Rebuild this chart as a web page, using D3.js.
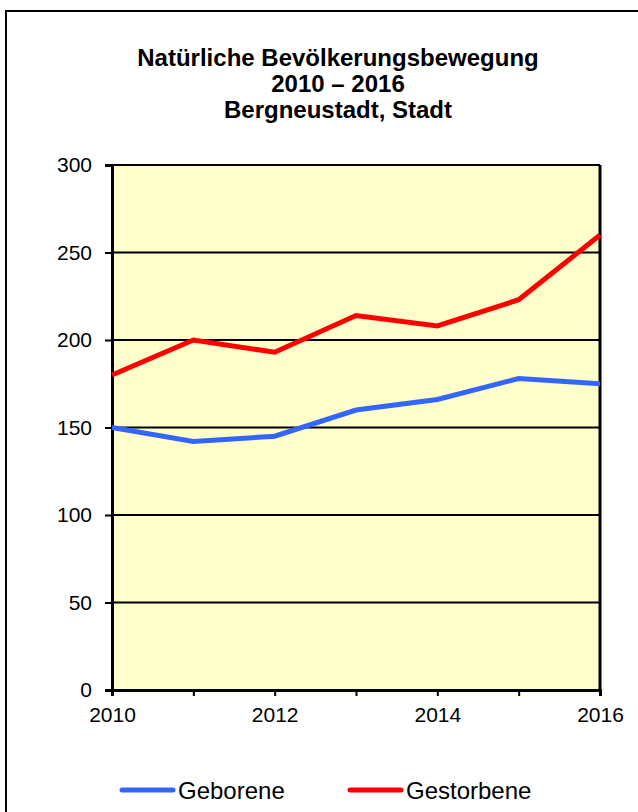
<!DOCTYPE html>
<html>
<head>
<meta charset="utf-8">
<script src="https://cdn.jsdelivr.net/npm/d3@7"></script>
<style>
  html, body { margin: 0; padding: 0; background: #ffffff; }
  svg { display: block; }
  text { font-family: "Liberation Sans", Arial, sans-serif; fill: #000; }
</style>
</head>
<body>
<svg id="chart" width="638" height="812"></svg>
<script>
// Natürliche Bevölkerungsbewegung, Bergneustadt 2010–2016
const years = [2010, 2011, 2012, 2013, 2014, 2015, 2016];
const geborene = [150, 142, 145, 160, 166, 178, 175];
const gestorbene = [180, 200, 193, 214, 208, 223, 260];
const yTicks = [0, 50, 100, 150, 200, 250, 300];
const xTickLabels = [2010, 2012, 2014, 2016];
const titleLines = ["Natürliche Bevölkerungsbewegung", "2010 – 2016", "Bergneustadt, Stadt"];
const seriesNames = ["Geborene", "Gestorbene"];
const seriesColors = ["#3366ff", "#ff0000"];

const svg = d3.select("#chart");

// outer frame
svg.append("rect")
  .attr("x", 6).attr("y", 11)
  .attr("width", 640).attr("height", 820)
  .attr("fill", "none").attr("stroke", "#000").attr("stroke-width", 2);

const plot = { left: 112, right: 600, top: 165, bottom: 690 };

const x = d3.scaleLinear().domain([2010, 2016]).range([plot.left, plot.right]);
const y = d3.scaleLinear().domain([0, 300]).range([plot.bottom, plot.top]);

// title
svg.append("g").selectAll("text")
  .data(titleLines)
  .join("text")
  .attr("x", 338)
  .attr("y", (d, i) => 66 + i * 26)
  .attr("text-anchor", "middle")
  .attr("font-size", 24)
  .attr("font-weight", "bold")
  .text(d => d);

// plot background
svg.append("rect")
  .attr("x", plot.left).attr("y", plot.top)
  .attr("width", plot.right - plot.left).attr("height", plot.bottom - plot.top)
  .attr("fill", "#ffffcc");

// horizontal gridlines
svg.append("g").selectAll("line")
  .data(yTicks)
  .join("line")
  .attr("x1", plot.left).attr("x2", plot.right)
  .attr("y1", d => y(d)).attr("y2", d => y(d))
  .attr("stroke", "#000").attr("stroke-width", 2);

// y axis
const yAxis = svg.append("g")
  .attr("transform", `translate(${plot.left},0)`)
  .call(d3.axisLeft(y).tickValues(yTicks).tickSize(7).tickPadding(13).tickFormat(d3.format("d")));
yAxis.select(".domain").attr("stroke", "#000").attr("stroke-width", 3);
yAxis.selectAll(".tick line").attr("stroke", "#000").attr("stroke-width", 2);
yAxis.selectAll(".tick text")
  .attr("font-size", 21)
  .attr("font-family", "'Liberation Sans', Arial, sans-serif")
  .attr("fill", "#000");

// x axis
const xAxis = svg.append("g")
  .attr("transform", `translate(0,${plot.bottom})`)
  .call(d3.axisBottom(x).tickValues(years).tickSize(6).tickPadding(11)
    .tickFormat(d => xTickLabels.includes(d) ? String(d) : ""));
xAxis.select(".domain").attr("stroke", "#000").attr("stroke-width", 3);
xAxis.selectAll(".tick line").attr("stroke", "#000").attr("stroke-width", 2);
xAxis.selectAll(".tick text")
  .attr("font-size", 21)
  .attr("font-family", "'Liberation Sans', Arial, sans-serif")
  .attr("fill", "#000");

// right border of plot area
svg.append("line")
  .attr("x1", plot.right).attr("x2", plot.right)
  .attr("y1", plot.top).attr("y2", plot.bottom)
  .attr("stroke", "#000").attr("stroke-width", 3);

// series lines
const line = d3.line().x((d, i) => x(years[i])).y(d => y(d));
[geborene, gestorbene].forEach((vals, k) => {
  svg.append("path")
    .datum(vals)
    .attr("d", line)
    .attr("fill", "none")
    .attr("stroke", seriesColors[k])
    .attr("stroke-width", 5)
    .attr("stroke-linejoin", "miter");
});

// legend
const legendX = [122, 350];
const legend = svg.append("g").selectAll("g")
  .data(seriesNames)
  .join("g")
  .attr("transform", (d, i) => `translate(${legendX[i]},790)`);
legend.append("line")
  .attr("x1", 0).attr("x2", 51)
  .attr("y1", 0).attr("y2", 0)
  .attr("stroke", (d, i) => seriesColors[i])
  .attr("stroke-width", 5)
  .attr("stroke-linecap", "round");
legend.append("text")
  .attr("x", 56).attr("y", 9)
  .attr("font-size", 24)
  .text(d => d);
</script>
</body>
</html>
